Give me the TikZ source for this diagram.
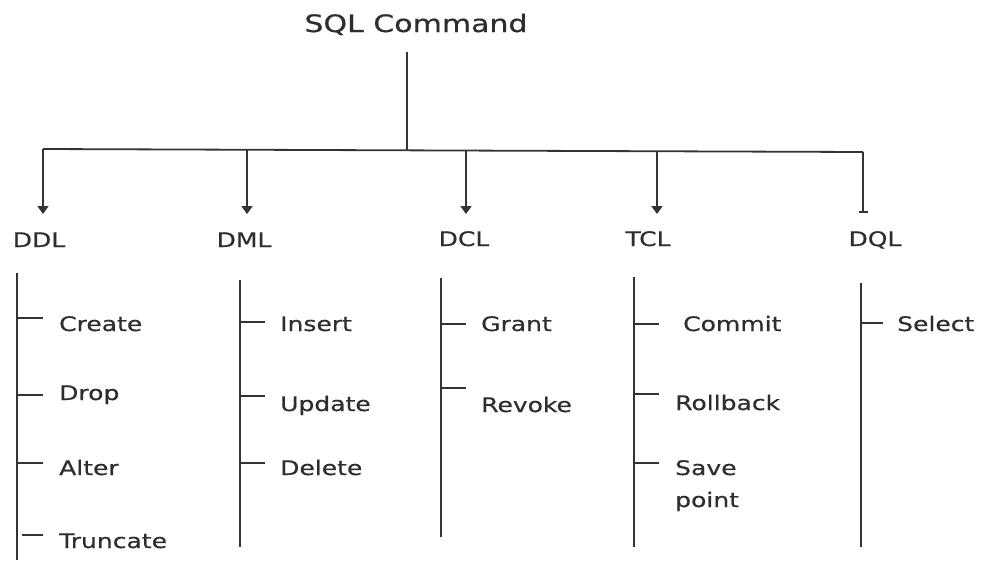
\documentclass[tikz,border=0pt]{standalone}
\usepackage{fontspec}
\setmainfont{DejaVu Sans}[FakeStretch=1.25,FakeBold=0.6]
\usetikzlibrary{arrows.meta}
\definecolor{ink}{HTML}{2E2E2E}
\definecolor{wire}{HTML}{333333}
\tikzset{
  lbl/.style={inner sep=0pt, text=ink, font=\fontsize{20}{24}\selectfont},
  ttl/.style={inner sep=0pt, text=ink, font=\fontsize{24}{28}\selectfont},
  itm/.style={lbl, anchor=base west, align=left, font=\fontsize{20}{32}\selectfont},
  wireln/.style={draw=wire, line width=1.8pt},
  arr/.style={wireln, -{Triangle[width=11pt,length=8pt]}},
  barend/.style={wireln, -{Bar[width=9pt,line width=1.8pt]}},
}
\begin{document}
\begin{tikzpicture}[x=1pt,y=-1pt]
\useasboundingbox (0,0) rectangle (981,560);
% title
\node[ttl, anchor=base] (title) at (416,32) {SQL Command};
\coordinate (tb) at (407,52);
\coordinate (j) at (407,150);
\draw[wireln] (tb) -- (j);
\coordinate (hl) at (43,149);
\coordinate (hr) at (863,152);
\draw[wireln] (hl) -- (hr);
% category labels
\node[lbl, anchor=base] (ddl) at (39,247) {DDL};
\node[lbl, anchor=base] (dml) at (244,247) {DML};
\node[lbl, anchor=base] (dcl) at (464,246) {DCL};
\node[lbl, anchor=base] (tcl) at (648,246) {TCL};
\node[lbl, anchor=base] (dql) at (875,246) {DQL};
% arrow tips
\coordinate (a1) at (43,149.2); \coordinate (t1) at (43,214);
\coordinate (a2) at (247,150); \coordinate (t2) at (247,214);
\coordinate (a3) at (466,150.5); \coordinate (t3) at (466,214);
\coordinate (a4) at (657,151); \coordinate (t4) at (657,214);
\coordinate (a5) at (863,152); \coordinate (t5) at (863,213);
\draw[arr] (a1) -- (t1);
\draw[arr] (a2) -- (t2);
\draw[arr] (a3) -- (t3);
\draw[arr] (a4) -- (t4);
\draw[barend] (a5) -- (t5);
% DDL list
\coordinate (s1t) at (17,273); \coordinate (s1b) at (17,560);
\draw[wireln] (s1t) -- (s1b);
\node[itm] (create) at (59,331) {Create};
\node[itm] (drop) at (59,400) {Drop};
\node[itm] (alter) at (59,475) {Alter};
\node[itm] (trunc) at (59,548) {Truncate};
\draw[wireln] (17,318) -- (43,318);
\draw[wireln] (17,395) -- (43,395);
\draw[wireln] (17,463) -- (43,463);
\draw[wireln] (22,535) -- (43,535);
% DML list
\coordinate (s2t) at (240,280); \coordinate (s2b) at (240,547);
\draw[wireln] (s2t) -- (s2b);
\node[itm] (insert) at (280,331) {Insert};
\node[itm] (update) at (280,411) {Update};
\node[itm] (delete) at (280,475) {Delete};
\draw[wireln] (240,322) -- (265,322);
\draw[wireln] (240,396) -- (265,396);
\draw[wireln] (240,463) -- (265,463);
% DCL list
\coordinate (s3t) at (441,278); \coordinate (s3b) at (441,537);
\draw[wireln] (s3t) -- (s3b);
\node[itm] (grant) at (481,331) {Grant};
\node[itm] (revoke) at (481,412) {Revoke};
\draw[wireln] (441,324) -- (466,324);
\draw[wireln] (441,388) -- (466,388);
% TCL list
\coordinate (s4t) at (634,277); \coordinate (s4b) at (634,547);
\draw[wireln] (s4t) -- (s4b);
\node[itm] (commit) at (683,331) {Commit};
\node[itm] (rollback) at (675,410) {Rollback};
\node[itm] (savept) at (675,507) {Save\\point};
\draw[wireln] (634,324) -- (659,324);
\draw[wireln] (634,394) -- (659,394);
\draw[wireln] (634,463) -- (659,463);
% DQL list
\coordinate (s5t) at (861,283); \coordinate (s5b) at (861,547);
\draw[wireln] (s5t) -- (s5b);
\node[itm] (select) at (897,331) {Select};
\draw[wireln] (861,323) -- (883,323);
\end{tikzpicture}
\end{document}
